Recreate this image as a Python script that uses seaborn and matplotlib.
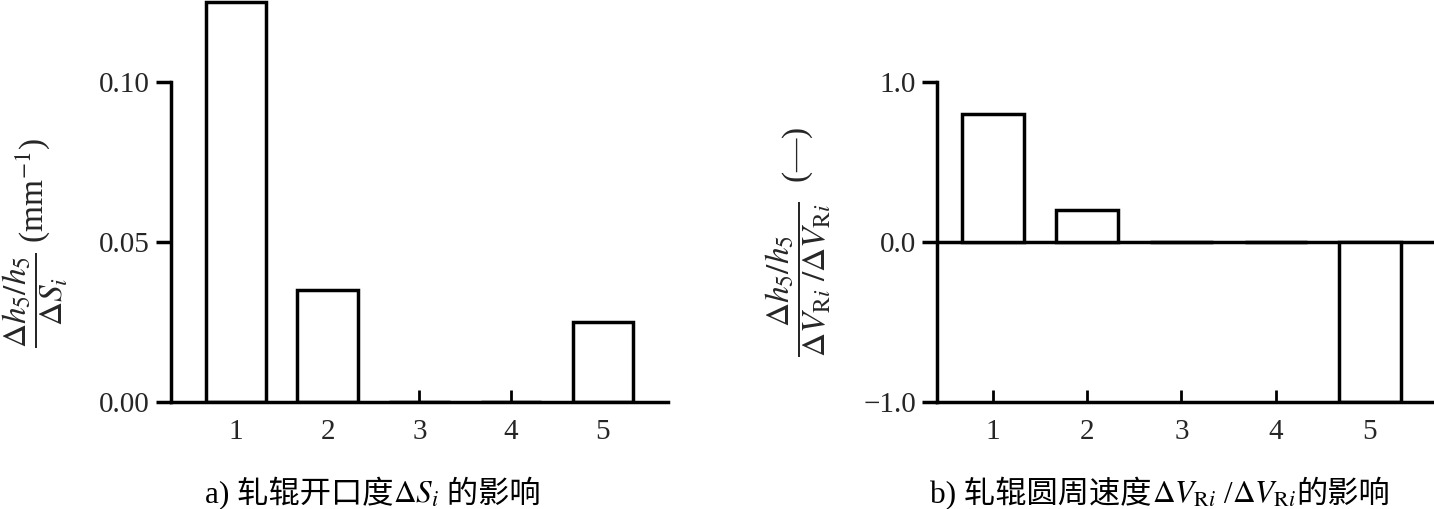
import numpy as np
import matplotlib
matplotlib.use('Agg')
import matplotlib.pyplot as plt
from matplotlib.offsetbox import TextArea, HPacker, AnchoredOffsetbox
import seaborn as sns

# data
stands = [1, 2, 3, 4, 5]
gap_effect = [0.125, 0.035, 0.0, 0.0, 0.025]       # a) roll gap
speed_effect = [0.8, 0.2, 0.0, 0.0, -1.0]           # b) roll peripheral speed
gap_ticks = [0.00, 0.05, 0.10]
gap_ticklabels = ['0.00', '0.05', '0.10']
speed_ticks = [-1.0, 0.0, 1.0]
speed_ticklabels = ['\u22121.0', '0.0', '1.0']

sns.set_style('white')
FAMILY = ['Liberation Serif', 'Noto Sans CJK SC']
plt.rcParams['font.family'] = FAMILY
plt.rcParams['mathtext.fontset'] = 'stix'
plt.rcParams['axes.linewidth'] = 2.5

fig = plt.figure(figsize=(14.34, 5.09), dpi=100)
ax1 = fig.add_axes([0.1192, 0.2102, 0.3466, 0.7898])
ax2 = fig.add_axes([0.6534, 0.2102, 0.3466, 0.6287])

lw = 2.5
for ax, vals in [(ax1, gap_effect), (ax2, speed_effect)]:
    sns.barplot(x=stands, y=vals, ax=ax, native_scale=True, width=0.66,
                color='white', edgecolor='black', linewidth=lw, saturation=1)
    for s in ['top', 'right']:
        ax.spines[s].set_visible(False)
    for s in ['left', 'bottom']:
        ax.spines[s].set_color('black')
        ax.spines[s].set_linewidth(lw)
    ax.set_xticks(stands)
    ax.set_xticklabels([str(s) for s in stands])
    ax.tick_params(axis='x', bottom=True, direction='in', length=9, width=2,
                   labelsize=21, pad=12, color='black')
    ax.tick_params(axis='y', left=True, direction='out', length=11, width=lw,
                   labelsize=21, pad=4, color='black')
    ax.set_xlabel('')

# a) roll gap
ax1.set_xlim(0.29, 5.71)
ax1.set_ylim(0, 0.1256)
ax1.set_yticks(gap_ticks)
ax1.set_yticklabels(gap_ticklabels)
ax1.spines['left'].set_bounds(0, 0.10)
ax1.set_ylabel(r'$\dfrac{\Delta h_5/h_5}{\Delta S_i}$ (mm$^{-1}$)', fontsize=24, va='center')
ax1.yaxis.set_label_coords(-0.272, 0.396)

# b) roll speed
ax2.set_xlim(0.406, 5.68)
ax2.set_ylim(-1.0, 1.0)
ax2.set_yticks(speed_ticks)
ax2.set_yticklabels(speed_ticklabels)
ax2.axhline(0, color='black', linewidth=lw, zorder=0.5)
ax2.set_ylabel(r'$\dfrac{\Delta h_5/h_5}{\Delta V_{\mathrm{R}i}\ /\Delta V_{\mathrm{R}i}}$  (—)',
               fontsize=24, va='center')
ax2.yaxis.set_label_coords(-0.28, 0.5)


def caption(parts, x, y, size=22.5):
    props = dict(fontsize=size, family=FAMILY, color='black')
    boxes = [TextArea(p, textprops=props) for p in parts]
    pack = HPacker(children=boxes, align='baseline', pad=0, sep=0)
    box = AnchoredOffsetbox(loc='center', child=pack, pad=0, borderpad=0, frameon=False,
                            bbox_to_anchor=(x, y), bbox_transform=fig.transFigure)
    fig.add_artist(box)


caption(['a) 轧辊开口度', r'$\Delta S_i$', ' 的影响'], 0.260, 0.031)
caption(['b) 轧辊圆周速度', r'$\Delta V_{\mathrm{R}i}$', ' /', r'$\Delta V_{\mathrm{R}i}$', '的影响'],
        0.809, 0.031)

plt.savefig('out.png', dpi=100)
